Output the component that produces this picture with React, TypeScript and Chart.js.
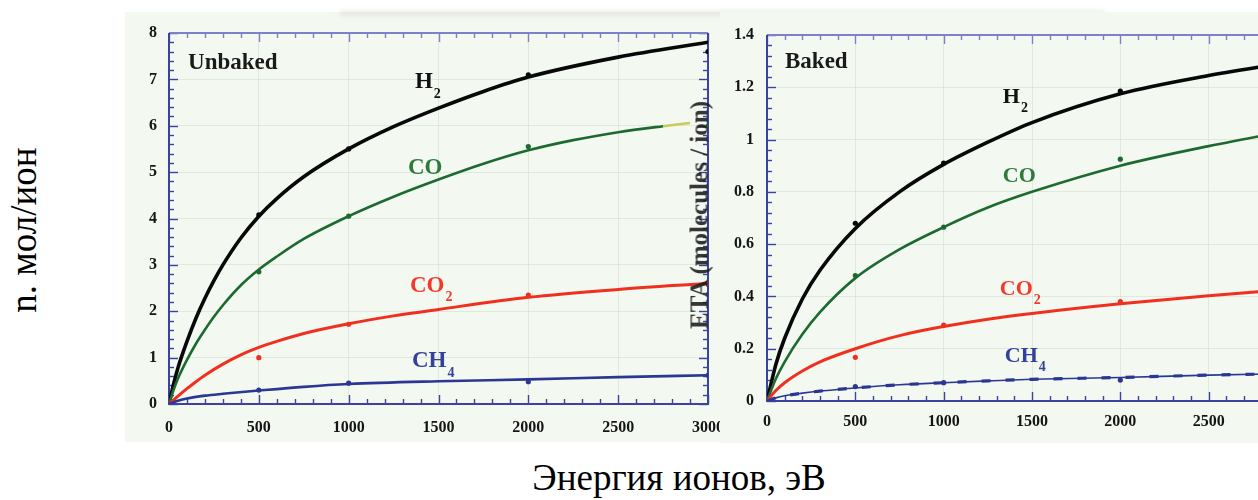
import React, { useEffect, useRef } from "react";
import { Chart, registerables } from "chart.js";

Chart.register(...registerables);

// ---------- Unbaked surface: fitted curves (energy in eV, yield in molecules/ion) ----------
const unbakedH2FitEnergy = [0, 25, 50, 100, 150, 200, 250, 300, 400, 500, 600, 750, 1000, 1250, 1500, 1750, 2000, 2500, 3000];
const unbakedH2Fit = [0, 0.42, 0.78, 1.35, 1.85, 2.28, 2.66, 3.0, 3.58, 4.05, 4.43, 4.9, 5.5, 5.98, 6.38, 6.74, 7.05, 7.48, 7.8];

const unbakedCoFitEnergy = [0, 25, 50, 100, 150, 200, 250, 300, 400, 500, 600, 750, 1000, 1250, 1500, 1750, 2000, 2250, 2500, 2750, 2900];
const unbakedCoFit = [0, 0.3, 0.55, 0.95, 1.3, 1.6, 1.88, 2.13, 2.56, 2.9, 3.18, 3.56, 4.05, 4.47, 4.84, 5.18, 5.47, 5.69, 5.86, 5.99, 6.06];

const unbakedCo2FitEnergy = [0, 50, 100, 150, 200, 300, 400, 500, 600, 750, 1000, 1250, 1500, 2000, 2500, 3000];
const unbakedCo2Fit = [0, 0.17, 0.33, 0.48, 0.62, 0.86, 1.06, 1.22, 1.35, 1.52, 1.73, 1.9, 2.04, 2.3, 2.47, 2.6];

const unbakedCh4FitEnergy = [0, 50, 100, 200, 300, 500, 750, 1000, 1500, 2000, 2500, 3000];
const unbakedCh4Fit = [0, 0.07, 0.12, 0.18, 0.22, 0.29, 0.37, 0.43, 0.49, 0.53, 0.58, 0.62];

// Unbaked surface: measured points
const unbakedPointEnergy = [0, 500, 1000, 2000, 3000];
const unbakedH2Points = [0, 4.08, 5.5, 7.1, 7.6];
const unbakedCoPoints = [0, 2.85, 4.05, 5.55, 6.0];
const unbakedCo2Points = [0, 1.0, 1.72, 2.35, 2.6];
const unbakedCh4Points = [0, 0.3, 0.45, 0.48, 0.62];

// ---------- Baked surface: fitted curves ----------
const bakedFitEnergy = [0, 50, 100, 200, 300, 500, 750, 1000, 1250, 1500, 2000, 2500, 3000];
const bakedH2Fit = [0, 0.14, 0.24, 0.39, 0.5, 0.66, 0.8, 0.905, 0.99, 1.065, 1.175, 1.245, 1.3];
const bakedCoFit = [0, 0.085, 0.15, 0.255, 0.34, 0.47, 0.58, 0.665, 0.74, 0.8, 0.9, 0.975, 1.04];
const bakedCo2Fit = [0, 0.04, 0.07, 0.115, 0.15, 0.2, 0.25, 0.285, 0.313, 0.335, 0.372, 0.403, 0.43];
const bakedCh4Fit = [0, 0.012, 0.02, 0.03, 0.038, 0.05, 0.062, 0.07, 0.077, 0.083, 0.09, 0.099, 0.105];

// Baked surface: measured points
const bakedPointEnergy = [0, 500, 1000, 2000, 3000];
const bakedH2Points = [0, 0.68, 0.91, 1.185, 1.3];
const bakedCoPoints = [0, 0.48, 0.665, 0.925, 1.04];
const bakedCo2Points = [0, 0.167, 0.29, 0.38, 0.43];
const bakedCh4Points = [0, 0.055, 0.07, 0.08, 0.105];

// ---------- Axis ticks ----------
const energyTicks = [0, 500, 1000, 1500, 2000, 2500, 3000];
const unbakedYTicks = [0, 1, 2, 3, 4, 5, 6, 7, 8];
const bakedYTicks = [0, 0.2, 0.4, 0.6, 0.8, 1, 1.2, 1.4];
const bakedYTickLabels = ["0", "0.2", "0.4", "0.6", "0.8", "1", "1.2", "1.4"];

// ---------- Styling ----------
const SERIF = '"Liberation Serif", "Times New Roman", serif';
const TINT = "#f3f8f1";
const BLACK = "#080808";
const GREEN = "#1d6a30";
const OLIVE = "#c9cc55";
const RED = "#f0301f";
const BLUE = "#2b3792";
const AXIS = "#3a44a0";
const AXIS_TOP = "#7c82c8";

const zip = (xs: number[], ys: number[]) => ys.map((y, i) => ({ x: xs[i], y }));

const fitLine = (xs: number[], ys: number[], color: string, width: number, extra: any = {}) => ({
  type: "line",
  data: zip(xs, ys),
  borderColor: color,
  borderWidth: width,
  pointRadius: 0,
  cubicInterpolationMode: "monotone",
  fill: false,
  ...extra,
});

const pointSet = (xs: number[], ys: number[], color: string) => ({
  type: "line",
  data: zip(xs, ys),
  showLine: false,
  pointRadius: 2.6,
  pointBackgroundColor: color,
  pointBorderColor: color,
  pointBorderWidth: 0,
});

// Frame with inward major/minor ticks on all four sides
const framePlugin = {
  id: "frame",
  beforeDatasetsDraw(chart: any, _args: any, opts: any) {
    const { ctx, chartArea: a, scales } = chart;
    const xs = scales.x;
    const ys = scales.y;
    ctx.save();
    ctx.lineCap = "butt";
    const major = 9;
    const minor = 5;

    const nx = Math.round((xs.max - xs.min) / opts.xMinor);
    const xEvery = Math.round(opts.xMajor / opts.xMinor);
    for (let i = 0; i <= nx; i++) {
      const px = Math.round(xs.getPixelForValue(xs.min + i * opts.xMinor)) + 0.5;
      const len = i % xEvery === 0 ? major : minor;
      ctx.lineWidth = 1.4;
      ctx.strokeStyle = AXIS;
      ctx.beginPath();
      ctx.moveTo(px, a.bottom);
      ctx.lineTo(px, a.bottom - len);
      ctx.stroke();
      ctx.strokeStyle = AXIS_TOP;
      ctx.beginPath();
      ctx.moveTo(px, a.top);
      ctx.lineTo(px, a.top + len);
      ctx.stroke();
    }

    const ny = Math.round((ys.max - ys.min) / opts.yMinor);
    const yEvery = Math.round(opts.yMajor / opts.yMinor);
    for (let i = 0; i <= ny; i++) {
      const py = Math.round(ys.getPixelForValue(ys.min + i * opts.yMinor)) + 0.5;
      const len = i % yEvery === 0 ? major : minor;
      ctx.lineWidth = 1.4;
      ctx.strokeStyle = AXIS;
      ctx.beginPath();
      ctx.moveTo(a.left, py);
      ctx.lineTo(a.left + len, py);
      ctx.stroke();
      ctx.beginPath();
      ctx.moveTo(a.right, py);
      ctx.lineTo(a.right - len, py);
      ctx.stroke();
    }

    ctx.lineWidth = 2;
    ctx.strokeStyle = AXIS_TOP;
    ctx.beginPath();
    ctx.moveTo(a.left, a.top);
    ctx.lineTo(a.right, a.top);
    ctx.stroke();
    ctx.strokeStyle = AXIS;
    ctx.beginPath();
    ctx.moveTo(a.left, a.top);
    ctx.lineTo(a.left, a.bottom);
    ctx.lineTo(a.right, a.bottom);
    ctx.lineTo(a.right, a.top);
    ctx.stroke();
    ctx.restore();
  },
};

// Species names and panel captions anchored in data units
const textPlugin = {
  id: "curveText",
  afterDatasetsDraw(chart: any, _args: any, opts: any) {
    const { ctx, scales } = chart;
    ctx.save();
    ctx.textBaseline = "alphabetic";
    ctx.textAlign = "left";
    for (const t of opts.items || []) {
      const px = scales.x.getPixelForValue(t.x);
      const py = scales.y.getPixelForValue(t.y);
      ctx.fillStyle = t.color;
      ctx.font = `bold ${t.size}px ${SERIF}`;
      ctx.fillText(t.text, px, py);
      if (t.sub) {
        const w = ctx.measureText(t.text).width;
        ctx.font = `bold ${Math.round(t.size * 0.62)}px ${SERIF}`;
        ctx.fillText(t.sub, px + w + 1, py + t.size * 0.42);
      }
    }
    ctx.restore();
  },
};

function buildConfig(p: any) {
  return {
    type: "line",
    data: { datasets: p.datasets },
    plugins: [framePlugin, textPlugin],
    options: {
      responsive: false,
      animation: false,
      events: [],
      layout: { padding: p.padding },
      plugins: {
        legend: { display: false },
        tooltip: { enabled: false },
        frame: { xMinor: 100, xMajor: 500, yMinor: p.yMinor, yMajor: p.yMajor },
        curveText: { items: p.labels },
      },
      scales: {
        x: {
          type: "linear",
          min: 0,
          max: 3000,
          afterBuildTicks: (s: any) => {
            s.ticks = energyTicks.map((v) => ({ value: v }));
          },
          afterFit: (s: any) => {
            s.height = p.xAxisHeight;
            s.paddingLeft = 0;
            s.paddingRight = 0;
          },
          border: { display: false },
          grid: { color: "rgba(200,216,200,0.45)", lineWidth: 1, drawTicks: false },
          ticks: {
            padding: p.xLabelPad,
            maxRotation: 0,
            autoSkip: false,
            color: "#151515",
            font: { family: SERIF, weight: "bold", size: 16 },
            callback: (v: number) => String(v),
          },
        },
        y: {
          type: "linear",
          min: 0,
          max: p.yMax,
          afterBuildTicks: (s: any) => {
            s.ticks = p.yTicks.map((v: number) => ({ value: v }));
          },
          afterFit: (s: any) => {
            s.width = p.yAxisWidth;
            s.paddingTop = 0;
            s.paddingBottom = 0;
          },
          border: { display: false },
          grid: { color: "rgba(200,216,200,0.45)", lineWidth: 1, drawTicks: false },
          ticks: {
            padding: p.yLabelPad,
            autoSkip: false,
            color: "#151515",
            font: { family: SERIF, weight: "bold", size: 16 },
            callback: (v: number, i: number) => p.yTickLabels[i],
          },
        },
      },
    },
  };
}

const unbakedPanel = {
  yMax: 8,
  yMajor: 1,
  yMinor: 0.2,
  yTicks: unbakedYTicks,
  yTickLabels: unbakedYTicks.map(String),
  yAxisWidth: 44,
  xAxisHeight: 39,
  padding: { left: 0, top: 21, right: 12, bottom: 0 },
  yLabelPad: 12,
  xLabelPad: 14,
  datasets: [
    fitLine(unbakedCh4FitEnergy, unbakedCh4Fit, BLUE, 2.6),
    fitLine(unbakedCo2FitEnergy, unbakedCo2Fit, RED, 3),
    fitLine(unbakedCoFitEnergy, unbakedCoFit, GREEN, 2.6, {
      segment: { borderColor: (c: any) => (c.p0.parsed.x >= 2750 ? OLIVE : GREEN) },
    }),
    fitLine(unbakedH2FitEnergy, unbakedH2Fit, BLACK, 3.6),
    pointSet(unbakedPointEnergy, unbakedCh4Points, BLUE),
    pointSet(unbakedPointEnergy, unbakedCoPoints, GREEN),
    pointSet(unbakedPointEnergy, unbakedH2Points, BLACK),
    pointSet(unbakedPointEnergy, unbakedCo2Points, RED),
  ],
  labels: [
    { text: "Unbaked", x: 106, y: 7.22, color: "#1a1a1a", size: 23 },
    { text: "H", sub: "2", x: 1369, y: 6.81, color: "#121212", size: 23 },
    { text: "CO", x: 1330, y: 4.96, color: "#2d7a3c", size: 23 },
    { text: "CO", sub: "2", x: 1341, y: 2.42, color: "#f23a2c", size: 23 },
    { text: "CH", sub: "4", x: 1352, y: 0.8, color: "#35409a", size: 23 },
  ],
};

const bakedPanel = {
  yMax: 1.4,
  yMajor: 0.2,
  yMinor: 0.04,
  yTicks: bakedYTicks,
  yTickLabels: bakedYTickLabels,
  yAxisWidth: 47,
  xAxisHeight: 42,
  padding: { left: 0, top: 23, right: 17, bottom: 0 },
  yLabelPad: 13,
  xLabelPad: 11,
  datasets: [
    fitLine(bakedFitEnergy, bakedCh4Fit, BLUE, 1.6),
    fitLine(bakedFitEnergy, bakedCh4Fit, BLUE, 3.2, { borderDash: [9, 15] }),
    fitLine(bakedFitEnergy, bakedCo2Fit, RED, 3),
    fitLine(bakedFitEnergy, bakedCoFit, GREEN, 2.6),
    fitLine(bakedFitEnergy, bakedH2Fit, BLACK, 3.6),
    pointSet(bakedPointEnergy, bakedCh4Points, BLUE),
    pointSet(bakedPointEnergy, bakedCoPoints, GREEN),
    pointSet(bakedPointEnergy, bakedH2Points, BLACK),
    pointSet(bakedPointEnergy, bakedCo2Points, RED),
  ],
  labels: [
    { text: "Baked", x: 102, y: 1.274, color: "#1a1a1a", size: 23 },
    { text: "H", sub: "2", x: 1335, y: 1.14, color: "#121212", size: 22 },
    { text: "CO", x: 1335, y: 0.838, color: "#2d7a3c", size: 22 },
    { text: "CO", sub: "2", x: 1318, y: 0.405, color: "#f23a2c", size: 22 },
    { text: "CH", sub: "4", x: 1346, y: 0.149, color: "#35409a", size: 22 },
  ],
};

export default function App() {
  const leftRef = useRef<HTMLCanvasElement>(null);
  const rightRef = useRef<HTMLCanvasElement>(null);

  useEffect(() => {
    const charts = [
      new Chart(leftRef.current as HTMLCanvasElement, buildConfig(unbakedPanel) as any),
      new Chart(rightRef.current as HTMLCanvasElement, buildConfig(bakedPanel) as any),
    ];
    return () => charts.forEach((c) => c.destroy());
  }, []);

  return (
    <div
      style={{
        position: "absolute",
        left: 0,
        top: 0,
        width: 1258,
        height: 500,
        overflow: "hidden",
        background: "#ffffff",
        fontFamily: SERIF,
      }}
    >
      <div style={{ position: "absolute", left: 125, top: 12, width: 1133, height: 430, background: TINT }} />
      <div
        style={{
          position: "absolute",
          left: 340,
          top: 10,
          width: 765,
          height: 6,
          background: "rgba(175,175,165,0.2)",
          filter: "blur(2px)",
        }}
      />
      <canvas
        ref={leftRef}
        width={595}
        height={431}
        style={{ position: "absolute", left: 125, top: 12, width: 595, height: 431 }}
      />
      <div
        style={{
          position: "absolute",
          left: 720,
          top: 12,
          width: 538,
          height: 431,
          overflow: "hidden",
          background: TINT,
        }}
      >
        <canvas
          ref={rightRef}
          width={594}
          height={431}
          style={{ position: "absolute", left: 0, top: 0, width: 594, height: 431 }}
        />
      </div>
      <div
        style={{
          position: "absolute",
          left: 699,
          top: 215,
          transform: "translate(-50%, -50%) rotate(-90deg)",
          whiteSpace: "nowrap",
          fontSize: 25,
          lineHeight: 1,
          fontWeight: "bold",
          color: "rgba(25,25,25,0.88)",
        }}
      >
        ETA (molecules / ion)
      </div>
      <div
        style={{
          position: "absolute",
          left: 23,
          top: 230,
          transform: "translate(-50%, -50%) rotate(-90deg)",
          whiteSpace: "nowrap",
          fontSize: 37,
          lineHeight: 1,
          color: "#000",
        }}
      >
        n. мол/ион
      </div>
      <div
        style={{
          position: "absolute",
          left: 679,
          top: 459,
          transform: "translateX(-50%)",
          whiteSpace: "nowrap",
          fontSize: 37,
          lineHeight: 1,
          color: "#000",
        }}
      >
        Энергия ионов, эВ
      </div>
    </div>
  );
}
